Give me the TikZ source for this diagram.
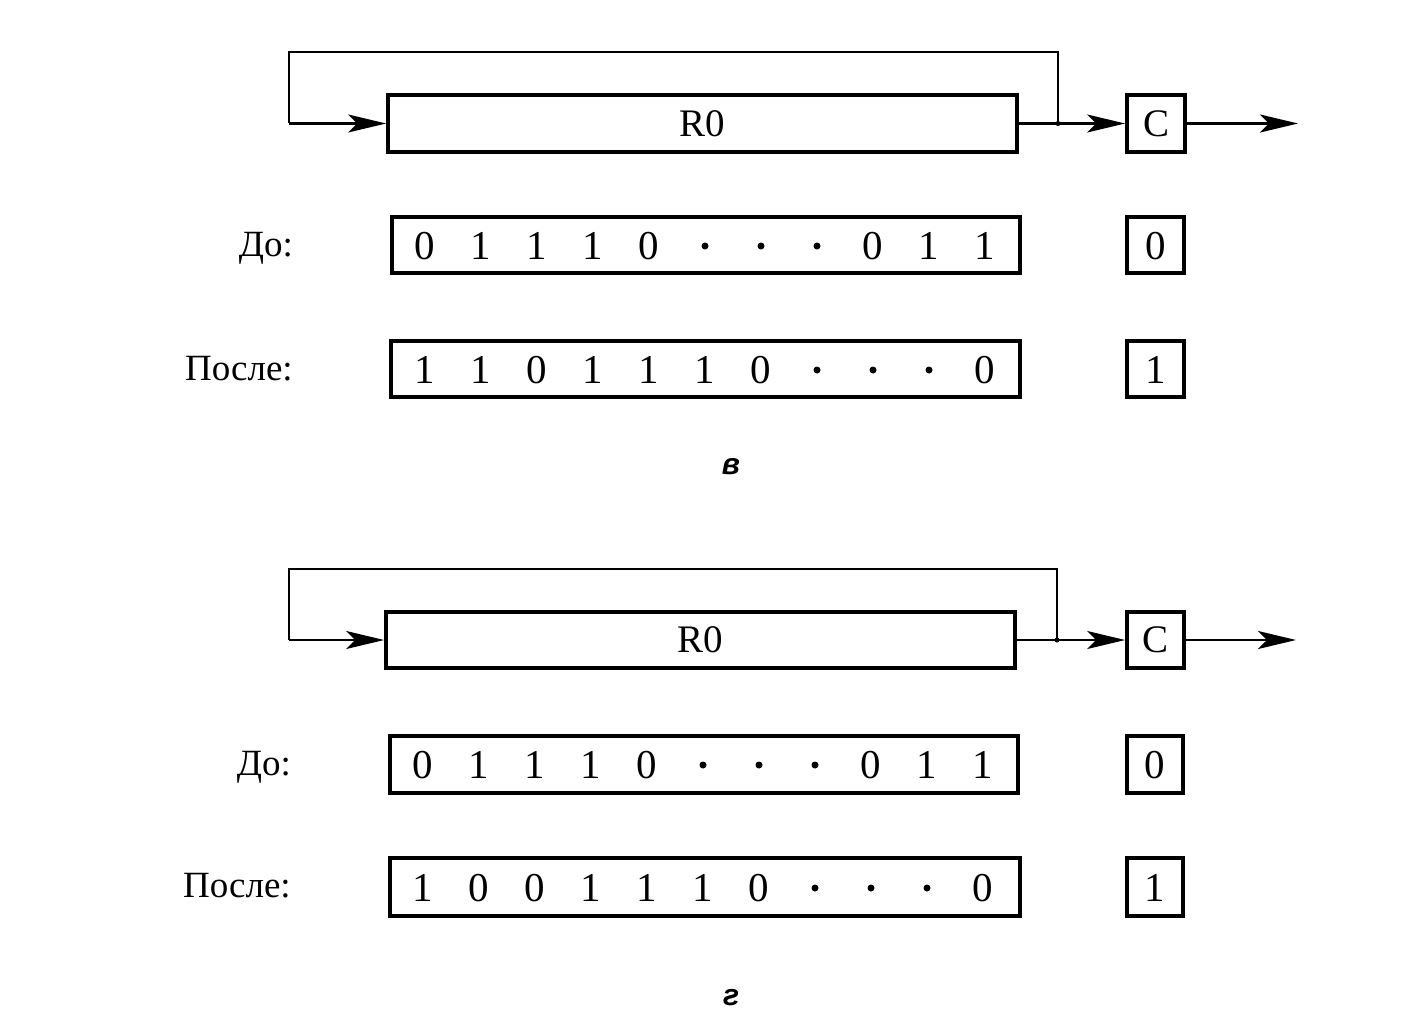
\documentclass[tikz,border=0pt]{standalone}
\usepackage{fontspec}
\setmainfont{Liberation Serif}
\newfontfamily\capfont{Liberation Sans}
\usetikzlibrary{arrows.meta}
\tikzset{
  reg/.style={draw, line width=3.8pt, inner sep=0pt},
  bit/.style={font=\fontsize{41}{46}\selectfont, inner sep=0pt, anchor=base},
  dotb/.style={circle, fill, inner sep=0pt, minimum size=7pt},
  lbl/.style={font=\fontsize{37}{44}\selectfont, inner sep=0pt, anchor=base east},
  regtxt/.style={font=\fontsize{39}{44}\selectfont},
  wire/.style={line width=2.6pt},
  arr/.style={wire, -{Stealth[length=38pt, width=18pt, inset=9pt]}},
  figcap/.style={font=\capfont\bfseries\itshape\fontsize{30}{34}\selectfont, inner sep=0pt}
}
\begin{document}
\begin{tikzpicture}[x=1pt,y=-1pt]
\useasboundingbox (0,0) rectangle (1404,1022);

% ===== diagram v =====
\node[reg, regtxt, minimum width=629pt, minimum height=57pt] (r0a) at (702.5,123.5) {R0};
\node[reg, regtxt, minimum width=58pt, minimum height=57pt] (ca) at (1156,123.5) {C};
\coordinate (la) at (289,123.5);
\coordinate (ja) at (1058,123.5);
\coordinate (oa) at (1298,123.5);
\draw[wire] (ja) -- (1058,52) -- (289,52) -- (la);
\draw[arr] (la) -- (r0a.west);
\draw[arr] (r0a.east) -- (ca.west);
\draw[arr] (ca.east) -- (oa);
\fill (ja) circle (2.5pt);

\node[reg, minimum width=628pt, minimum height=56pt] (da) at (706,245) {};
\node[reg, minimum width=57pt, minimum height=56pt] (dca) at (1155.5,245) {};
\node[lbl] (dla) at (293,256) {До:};
\foreach \b [count=\i] in {0,1,1,1,0,,,,0,1,1}
  \node[bit] (da\i) at ({425+56*(\i-1)},259) {\b};
\foreach \i in {6,7,8}
  \node[dotb] (dda\i) at ({425+56*(\i-1)},246) {};
\node[bit] (dcav) at (1155.5,259) {0};

\node[reg, minimum width=629pt, minimum height=56pt] (pa) at (705.5,369) {};
\node[reg, minimum width=57pt, minimum height=56pt] (pca) at (1155.5,369) {};
\node[lbl] (pla) at (293,380) {После:};
\foreach \b [count=\i] in {1,1,0,1,1,1,0,,,,0}
  \node[bit] (pa\i) at ({425+56*(\i-1)},383) {\b};
\foreach \i in {8,9,10}
  \node[dotb] (dpa\i) at ({425+56*(\i-1)},370) {};
\node[bit] (pcav) at (1155.5,383) {1};

\node[figcap] (capa) at (731,467) {в};

% ===== diagram g =====
\node[reg, regtxt, minimum width=629pt, minimum height=56pt] (r0b) at (700.5,640) {R0};
\node[reg, regtxt, minimum width=57pt, minimum height=56pt] (cb) at (1155.5,640) {C};
\coordinate (lb) at (289,640);
\coordinate (jb) at (1057,640);
\coordinate (ob) at (1296,640);
\draw[wire] (jb) -- (1057,569) -- (289,569) -- (lb);
\draw[arr] (lb) -- (r0b.west);
\draw[arr] (r0b.east) -- (cb.west);
\draw[arr] (cb.east) -- (ob);
\fill (jb) circle (2.5pt);

\node[reg, minimum width=628pt, minimum height=57pt] (db) at (704,764.5) {};
\node[reg, minimum width=56pt, minimum height=57pt] (dcb) at (1155,764.5) {};
\node[lbl] (dlb) at (291,775) {До:};
\foreach \b [count=\i] in {0,1,1,1,0,,,,0,1,1}
  \node[bit] (db\i) at ({423+56*(\i-1)},778) {\b};
\foreach \i in {6,7,8}
  \node[dotb] (ddb\i) at ({423+56*(\i-1)},765) {};
\node[bit] (dcbv) at (1155,778) {0};

\node[reg, minimum width=630pt, minimum height=58pt] (pb) at (705,887) {};
\node[reg, minimum width=56pt, minimum height=58pt] (pcb) at (1155,887) {};
\node[lbl] (plb) at (291,897) {После:};
\foreach \b [count=\i] in {1,0,0,1,1,1,0,,,,0}
  \node[bit] (pb\i) at ({423+56*(\i-1)},901) {\b};
\foreach \i in {8,9,10}
  \node[dotb] (dpb\i) at ({423+56*(\i-1)},888) {};
\node[bit] (pcbv) at (1155,901) {1};

\node[figcap] (capb) at (731,998) {г};
\end{tikzpicture}
\end{document}
